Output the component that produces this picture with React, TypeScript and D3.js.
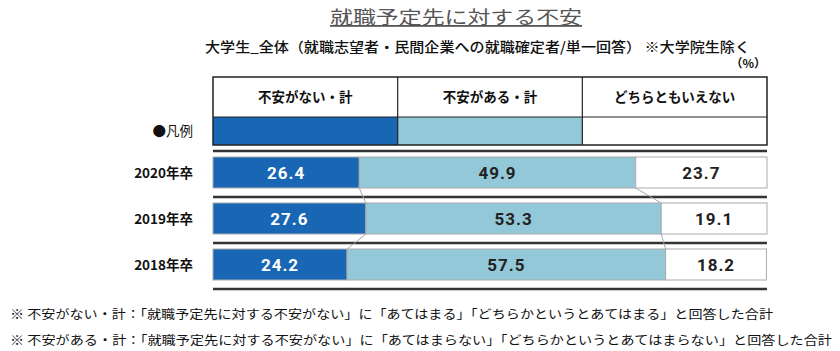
import React from "react";
import * as d3 from "d3";

const title = "就職予定先に対する不安";
const subtitle = "大学生_全体（就職志望者・民間企業への就職確定者/単一回答） ※大学院生除く";
const unitLabel = "（%）";
const categories = ["不安がない・計", "不安がある・計", "どちらともいえない"];
const colors = ["#1866b4", "#92c8d8", "#ffffff"];
const years = ["2020年卒", "2019年卒", "2018年卒"];
const noAnxiety = [26.4, 27.6, 24.2];
const anxiety = [49.9, 53.3, 57.5];
const neither = [23.7, 19.1, 18.2];
const legendLabel = "●凡例";
const notes = [
  "※ 不安がない・計：「就職予定先に対する不安がない」に「あてはまる」「どちらかというとあてはまる」と回答した合計",
  "※ 不安がある・計：「就職予定先に対する不安がない」に「あてはまらない」「どちらかというとあてはまらない」と回答した合計",
];

const W = 840;
const H = 351;
const jp = "'Noto Sans CJK JP', 'Noto Sans', sans-serif";
const num = "'Liberation Sans Narrow', 'Roboto', sans-serif";

export default function App() {
  const x = d3.scaleLinear().domain([0, 100]).range([213, 767]);
  const y = d3.scaleBand().domain(years).range([151, 289]);
  const col = d3.scaleBand().domain(categories).range([213, 767]);

  const rows = years.map((yr, i) => {
    const vals = [noAnxiety[i], anxiety[i], neither[i]];
    const stack: { x0: number; x1: number; v: number; c: number }[] = [];
    let acc = 0;
    vals.forEach((v, c) => {
      stack.push({ x0: acc, x1: acc + v, v, c });
      acc += v;
    });
    return { yr, stack, top: (y(yr) as number) + 6, h: 31 };
  });

  // thin connector lines between segment borders of neighbouring rows
  const connectors: { x1: number; y1: number; x2: number; y2: number }[] = [];
  for (let i = 0; i < rows.length - 1; i++) {
    for (let k = 0; k < 2; k++) {
      connectors.push({
        x1: x(rows[i].stack[k].x1),
        y1: rows[i].top + rows[i].h,
        x2: x(rows[i + 1].stack[k].x1),
        y2: rows[i + 1].top,
      });
    }
  }

  const seps = years.map((yr) => y(yr) as number).concat([289]);

  return (
    <svg width={W} height={H} style={{ position: "absolute", left: 0, top: 0, background: "#fff" }}>
      <text x={456} y={24} textAnchor="middle" fontFamily={jp} fontSize={18} fill="#555"
        textLength={252} lengthAdjust="spacingAndGlyphs" textDecoration="underline">
        {title}
      </text>
      <text x={205} y={52} fontFamily={jp} fontSize={14} fontWeight={500} fill="#111"
        textLength={545} lengthAdjust="spacingAndGlyphs">
        {subtitle}
      </text>
      <text x={766} y={68} textAnchor="end" fontFamily={jp} fontSize={12} fontWeight={700} fill="#111">
        {unitLabel}
      </text>

      {/* legend table */}
      <g>
        {categories.map((c, i) => (
          <g key={c}>
            <rect x={col(c)} y={117} width={col.bandwidth()} height={28} fill={colors[i]} />
            <text x={(col(c) as number) + col.bandwidth() / 2} y={102} textAnchor="middle"
              fontFamily={jp} fontSize={13.5} fontWeight={700} fill="#111">
              {c}
            </text>
          </g>
        ))}
        <rect x={213} y={77} width={554} height={68} fill="none" stroke="#222" strokeWidth={1.5} />
        <line x1={213} x2={767} y1={117} y2={117} stroke="#222" strokeWidth={1.2} />
        {categories.slice(1).map((c) => (
          <line key={c} x1={col(c)} x2={col(c)} y1={77} y2={145} stroke="#222" strokeWidth={1.2} />
        ))}
        <text x={193} y={136} textAnchor="end" fontFamily={jp} fontSize={13.5} fill="#111">
          {legendLabel}
        </text>
      </g>

      {seps.map((s, i) => (
        <line key={i} x1={213} x2={767} y1={s} y2={s} stroke="#333" strokeWidth={2.5} />
      ))}

      {connectors.map((c, i) => (
        <line key={i} x1={c.x1} y1={c.y1} x2={c.x2} y2={c.y2} stroke="#aaa" strokeWidth={1} />
      ))}

      {rows.map((r) => (
        <g key={r.yr}>
          <text x={193} y={r.top + r.h / 2 + 5} textAnchor="end" fontFamily={jp} fontSize={13.5}
            fontWeight={700} fill="#111">
            {r.yr}
          </text>
          {r.stack.map((s) => (
            <g key={s.c}>
              <rect x={x(s.x0)} y={r.top} width={x(s.x1) - x(s.x0)} height={r.h}
                fill={colors[s.c]} stroke="#aaa" strokeWidth={1} />
              <text x={(x(s.x0) + x(s.x1)) / 2} y={r.top + r.h / 2 + 6} textAnchor="middle"
                fontFamily={num} fontSize={17} fontWeight={700} letterSpacing={1}
                fill={s.c === 0 ? "#fff" : "#222"}>
                {s.v.toFixed(1)}
              </text>
            </g>
          ))}
        </g>
      ))}

      {notes.map((n, i) => (
        <text key={i} x={10} y={319 + i * 26} fontFamily={jp} fontSize={12.5} fill="#111"
          textLength={i === 0 ? 763 : 822} lengthAdjust="spacingAndGlyphs">
          {n}
        </text>
      ))}
    </svg>
  );
}
